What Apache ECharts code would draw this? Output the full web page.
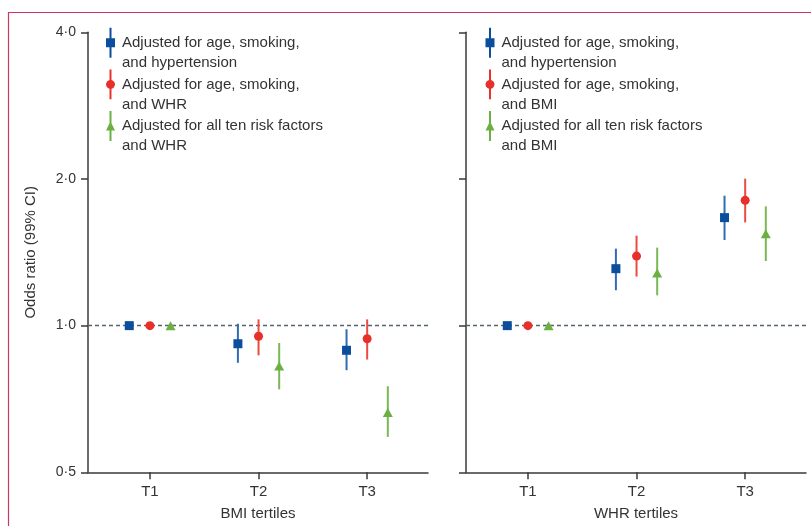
<!DOCTYPE html>
<html>
<head>
<meta charset="utf-8">
<script src="https://cdn.jsdelivr.net/npm/echarts@6/dist/echarts.min.js"></script>
<style>html,body{margin:0;padding:0;background:#fff}#c{width:811px;height:526px}</style>
</head>
<body>
<div id="c"></div>
<script>
// ---- data ----
var categories = ['T1', 'T2', 'T3'];
var yTicks = [0.5, 1, 2, 4];

var nameHyp = 'Adjusted for age, smoking,\nand hypertension';
var nameWhr = 'Adjusted for age, smoking,\nand WHR';
var nameAllWhr = 'Adjusted for all ten risk factors\nand WHR';
var nameBmi = 'Adjusted for age, smoking,\nand BMI';
var nameAllBmi = 'Adjusted for all ten risk factors\nand BMI';

// BMI tertiles panel
var bmiHyp      = [1.0, 0.918, 0.890];
var bmiHypLow   = [1.0, 0.839, 0.810];
var bmiHypHigh  = [1.0, 1.009, 0.983];
var bmiWhr      = [1.0, 0.951, 0.940];
var bmiWhrLow   = [1.0, 0.869, 0.852];
var bmiWhrHigh  = [1.0, 1.030, 1.030];
var bmiAll      = [1.0, 0.826, 0.663];
var bmiAllLow   = [1.0, 0.740, 0.591];
var bmiAllHigh  = [1.0, 0.921, 0.751];

// WHR tertiles panel
var whrHyp      = [1.0, 1.309, 1.666];
var whrHypLow   = [1.0, 1.182, 1.499];
var whrHypHigh  = [1.0, 1.439, 1.848];
var whrBmi      = [1.0, 1.389, 1.808];
var whrBmiLow   = [1.0, 1.261, 1.629];
var whrBmiHigh  = [1.0, 1.530, 2.003];
var whrAll      = [1.0, 1.282, 1.544];
var whrAllLow   = [1.0, 1.154, 1.357];
var whrAllHigh  = [1.0, 1.446, 1.757];

// ---- styling ----
var FONT = '"Liberation Sans", Arial, sans-serif';
var TXT = '#333333';
var AX = '#3a3a3a';
var blue = '#0b4f9c', blueBar = '#2e6cb4';
var red = '#e8302a', redBar = '#ea4a40';
var green = '#6cb043', greenBar = '#79b955';
var offsets = [-0.19, 0, 0.19];

var iconSquare = 'path://M3.5,0H5.5V10.5H9V19.5H5.5V30H3.5V19.5H0V10.5H3.5Z';
var iconCircle = 'path://M3.5,0H5.5V10.6A4.5,4.5 0 0 1 5.5,19.4V30H3.5V19.4A4.5,4.5 0 0 1 3.5,10.6Z';
var iconTri = 'path://M3.5,0H5.5V12.1L9,19.5H5.5V30H3.5V19.5H0L3.5,12.1Z';

function pts(vals, k) {
  return vals.map(function (v, i) { return [i + 1 + offsets[k], v]; });
}
function bars(lo, hi, k) {
  return lo.map(function (v, i) { return [i + 1 + offsets[k], v, hi[i]]; });
}
function errSeries(name, gi, lo, hi, k, col) {
  return {
    type: 'custom', name: name, xAxisIndex: gi, yAxisIndex: gi, z: 3,
    data: bars(lo, hi, k),
    encode: { x: 0, y: [1, 2] },
    renderItem: function (params, api) {
      var a = api.coord([api.value(0), api.value(1)]);
      var b = api.coord([api.value(0), api.value(2)]);
      return { type: 'line', shape: { x1: a[0], y1: a[1], x2: b[0], y2: b[1] },
               style: { stroke: col, lineWidth: 2 } };
    },
    silent: true
  };
}
function markSeries(name, gi, vals, k, col, sym, size, withLine) {
  var s = {
    type: 'scatter', name: name, xAxisIndex: gi, yAxisIndex: gi, z: 5,
    symbol: sym, symbolSize: size,
    itemStyle: { color: col, opacity: 1 },
    data: pts(vals, k), silent: true
  };
  if (withLine) {
    s.markLine = {
      silent: true, symbol: 'none', label: { show: false }, z: 1,
      lineStyle: { type: [4, 3], color: '#55636f', width: 1.3 },
      data: [{ yAxis: 1 }]
    };
  }
  return s;
}
function xAxisCfg(gi, title) {
  return {
    type: 'value', gridIndex: gi, min: 0.43, max: 3.56,
    name: title, nameLocation: 'middle', nameGap: 34,
    nameTextStyle: { fontFamily: FONT, fontSize: 15, color: TXT },
    axisLine: { show: true, lineStyle: { color: AX, width: 1.5 } },
    axisTick: { show: true, length: 7, customValues: [1, 2, 3], lineStyle: { color: AX, width: 1.5 } },
    axisLabel: { show: true, customValues: [1, 2, 3], margin: 12, fontFamily: FONT, fontSize: 15, color: TXT,
      formatter: function (v) { return categories[Math.round(v) - 1]; } },
    splitLine: { show: false }
  };
}
function yAxisCfg(gi, showLabel) {
  var c = {
    type: 'log', logBase: 2, gridIndex: gi, min: yTicks[0], max: yTicks[yTicks.length - 1],
    axisLine: { show: true, lineStyle: { color: AX, width: 1.5 } },
    axisTick: { show: true, length: 7, lineStyle: { color: AX, width: 1.5 } },
    axisLabel: { show: showLabel, margin: 12, fontFamily: FONT, fontSize: 14, color: TXT,
      formatter: function (v) { return (+v).toFixed(1).replace('.', '\u00b7'); } },
    splitLine: { show: false }
  };
  if (showLabel) {
    c.name = 'Odds ratio (99% CI)';
    c.nameLocation = 'middle';
    c.nameGap = 50;
    c.nameTextStyle = { fontFamily: FONT, fontSize: 15, color: TXT };
  }
  return c;
}
function legendCfg(left, names) {
  return {
    orient: 'vertical', left: left, top: 12.7, padding: 0, itemGap: -18.3,
    itemWidth: 9, itemHeight: 30, selectedMode: false,
    formatter: function (n) { return ' \n' + n; },
    textStyle: { fontFamily: FONT, fontSize: 15, color: TXT, lineHeight: 20, padding: [0, 0, 0, 2] },
    data: [
      { name: names[0], icon: iconSquare, itemStyle: { color: blue } },
      { name: names[1], icon: iconCircle, itemStyle: { color: red } },
      { name: names[2], icon: iconTri, itemStyle: { color: green } }
    ]
  };
}

var option = {
  animation: false,
  backgroundColor: '#ffffff',
  graphic: [{
    type: 'rect', silent: true, z: -10,
    shape: { x: 8.5, y: 12.5, width: 900, height: 600 },
    style: { fill: 'none', stroke: '#cc3560', lineWidth: 1.2 }
  }],
  grid: [
    { left: 88, top: 32.3, width: 340, height: 440, outerBoundsMode: 'none', containLabel: false },
    { left: 466, top: 32.3, width: 340, height: 440, outerBoundsMode: 'none', containLabel: false }
  ],
  legend: [
    legendCfg(106, [nameHyp, nameWhr, nameAllWhr]),
    legendCfg(485.5, [nameHyp, nameBmi, nameAllBmi])
  ],
  xAxis: [xAxisCfg(0, 'BMI tertiles'), xAxisCfg(1, 'WHR tertiles')],
  yAxis: [yAxisCfg(0, true), yAxisCfg(1, false)],
  series: [
    errSeries(nameHyp, 0, bmiHypLow, bmiHypHigh, 0, blueBar),
    errSeries(nameWhr, 0, bmiWhrLow, bmiWhrHigh, 1, redBar),
    errSeries(nameAllWhr, 0, bmiAllLow, bmiAllHigh, 2, greenBar),
    markSeries(nameHyp, 0, bmiHyp, 0, blue, 'rect', 9, true),
    markSeries(nameWhr, 0, bmiWhr, 1, red, 'circle', 9, false),
    markSeries(nameAllWhr, 0, bmiAll, 2, green, 'triangle', [10, 9], false),

    errSeries(nameHyp, 1, whrHypLow, whrHypHigh, 0, blueBar),
    errSeries(nameBmi, 1, whrBmiLow, whrBmiHigh, 1, redBar),
    errSeries(nameAllBmi, 1, whrAllLow, whrAllHigh, 2, greenBar),
    markSeries(nameHyp, 1, whrHyp, 0, blue, 'rect', 9, true),
    markSeries(nameBmi, 1, whrBmi, 1, red, 'circle', 9, false),
    markSeries(nameAllBmi, 1, whrAll, 2, green, 'triangle', [10, 9], false)
  ]
};
var chart = echarts.init(document.getElementById('c'), null, { renderer: 'canvas' });
chart.setOption(option);
</script>
</body>
</html>
